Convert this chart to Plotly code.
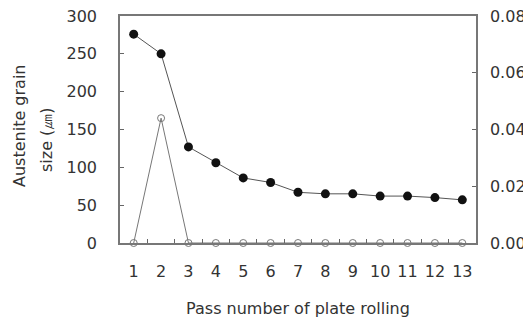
import plotly.graph_objects as go

passes = [str(i) for i in range(1, 14)]
grain_size = [276, 250, 127, 106, 86, 80, 67, 65, 65, 62, 62, 60, 57]
second = [0, 0.044, 0, 0, 0, 0, 0, 0, 0, 0, 0, 0, 0]

left_ticks = [0, 50, 100, 150, 200, 250, 300]
right_ticks = [0, 0.02, 0.04, 0.06, 0.08]
right_labels = ["0.00", "0.02", "0.04", "0.06", "0.08"]
y_title_lines = ["Austenite grain", "size (㎛)"]

fig = go.Figure()
fig.add_trace(go.Scatter(
    x=passes, y=second, yaxis="y2", mode="lines+markers",
    line=dict(color="#777777", width=1),
    marker=dict(symbol="circle-open", size=7, color="#777777", line=dict(width=1)),
    cliponaxis=False, showlegend=False))
fig.add_trace(go.Scatter(
    x=passes, y=grain_size, mode="lines+markers",
    line=dict(color="#555555", width=1),
    marker=dict(symbol="circle", size=9, color="#111111"),
    cliponaxis=False, showlegend=False))

font = dict(family="DejaVu Sans, sans-serif", size=16, color="#333333")
tickfont = dict(family="DejaVu Sans, sans-serif", size=16, color="#333333")
fig.update_layout(
    width=523, height=313,
    margin=dict(l=112, r=55, t=8, b=78, autoexpand=False),
    paper_bgcolor="white", plot_bgcolor="white",
    font=font,
    xaxis=dict(
        type="category", categoryorder="array", categoryarray=passes,
        range=[-0.5, 12.5], automargin=False, tickangle=0,
        ticklabeloverflow="allow",
        tickson="boundaries", ticks="inside", ticklen=4, tickcolor="#666666",
        showline=True, linecolor="#777777", linewidth=1.5, mirror=True,
        showgrid=False, zeroline=False, ticklabelstandoff=13, tickfont=tickfont,
        title=dict(text="Pass number of plate rolling", standoff=23, font=font)),
    yaxis=dict(
        range=[0, 300], tickvals=left_ticks, ticks="inside", ticklen=4,
        automargin=False, ticklabeloverflow="allow",
        tickcolor="#666666", showline=True, linecolor="#777777", linewidth=1.5,
        showgrid=False, zeroline=False, ticklabelstandoff=18, tickfont=tickfont),
    yaxis2=dict(
        range=[0, 0.08], tickvals=right_ticks, ticktext=right_labels,
        overlaying="y", side="right", ticks="inside", ticklen=4,
        automargin=False, tickfont=tickfont, ticklabeloverflow="allow",
        tickcolor="#666666", showline=True, linecolor="#777777", linewidth=1.5,
        showgrid=False, zeroline=False, ticklabelstandoff=9),
    annotations=[
        dict(text=y_title_lines[0], textangle=-90, xref="paper", yref="paper",
             x=-0.284, y=0.515, xanchor="center", yanchor="middle",
             showarrow=False, font=font),
        dict(text=y_title_lines[1], textangle=-90, xref="paper", yref="paper",
             x=-0.208, y=0.458, xanchor="center", yanchor="middle",
             showarrow=False, font=font),
    ],
)

fig.write_html("out.html")
